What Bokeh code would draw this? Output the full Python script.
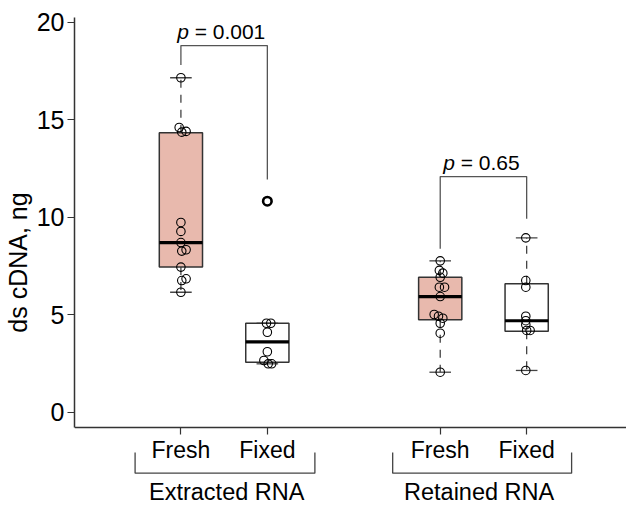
from bokeh.plotting import figure
from bokeh.models import Range1d, FixedTicker, LinearAxis, ColumnDataSource
from bokeh.core.properties import value
from bokeh.embed import file_html
from bokeh.resources import INLINE

# ---------------- data ----------------
groups = ["Extracted RNA", "Retained RNA"]
group_label_x = [1.53, 4.45]
group_span_start = [0.47, 3.45]
group_span_end = [2.55, 5.52]
group_bracket_top = -2.07
group_bracket_bottom = -3.13
group_label_y = -4.62

conditions = ["Fresh", "Fixed", "Fresh", "Fixed"]
positions = [1, 2, 4, 5]
box_q1 = [7.44, 2.56, 4.74, 4.15]
box_median = [8.70, 3.61, 5.93, 4.69]
box_q3 = [14.33, 4.56, 6.92, 6.58]
whisker_low = [6.15, 2.48, 2.05, 2.14]
whisker_high = [17.15, 4.56, 7.76, 8.94]

outlier_x = [2]
outlier_y = [10.82]

ext_fresh_x = [1.00, 0.98, 1.06, 1.01, 1.00, 1.00, 1.00, 1.06, 1.01, 1.00, 1.06, 1.01, 1.00]
ext_fresh_y = [17.15, 14.60, 14.40, 14.36, 9.73, 9.27, 8.70, 8.33, 8.26, 7.44, 6.84, 6.75, 6.15]
ext_fixed_x = [2.00, 1.99, 2.04, 2.00, 2.00, 1.96, 2.01, 2.05]
ext_fixed_y = [10.82, 4.56, 4.56, 4.10, 3.10, 2.65, 2.48, 2.48]
ret_fresh_x = [4.00, 3.99, 4.03, 4.00, 3.99, 4.05, 4.00, 3.93, 3.98, 4.03, 4.00, 4.00, 4.00]
ret_fresh_y = [7.76, 7.27, 7.13, 6.92, 6.41, 6.41, 5.93, 5.01, 4.92, 4.82, 4.56, 4.05, 2.05]
ret_fixed_x = [4.99, 4.99, 4.99, 4.99, 4.99, 4.99, 5.00, 5.04, 4.99]
ret_fixed_y = [8.94, 6.75, 6.41, 4.92, 4.69, 4.48, 4.19, 4.19, 2.14]

p_values = ["0.001", "0.65"]
bracket_x_left = [1, 4]
bracket_x_right = [2, 5]
bracket_y = [18.80, 12.08]
bracket_left_end = [17.80, 8.38]
bracket_right_end = [11.93, 9.92]

y_ticks = [0, 5, 10, 15, 20]
y_axis_min = -0.785
y_axis_max = 20.24
y_view_min = -4.888

# ---------------- styling ----------------
FONT = "Liberation Sans"
FRESH_COLOR = "#E8B9AD"
LINE_COLOR = "#333333"

p = figure(width=626, height=507, output_backend="svg", toolbar_location=None,
           x_range=Range1d(-0.231, 6.155), y_range=Range1d(y_view_min, y_axis_max),
           x_axis_location=None,
           min_border_left=71, min_border_right=0, min_border_top=17, min_border_bottom=0)
p.outline_line_color = None
p.xgrid.visible = False
p.ygrid.visible = False
p.background_fill_color = "white"
p.border_fill_color = "white"

# y axis (line limited to the data area)
ya = p.yaxis[0]
ya.bounds = (y_axis_min, y_axis_max)
ya.ticker = FixedTicker(ticks=y_ticks)
ya.minor_tick_line_color = None
ya.major_tick_out = 7
ya.major_tick_in = 0
ya.major_label_standoff = 3
ya.major_label_text_font = FONT
ya.major_label_text_font_size = "25px"
ya.major_label_text_color = "black"
ya.axis_line_color = LINE_COLOR
ya.axis_line_width = 1.5
ya.major_tick_line_color = LINE_COLOR
ya.major_tick_line_width = 1.2
ya.axis_label = "ds cDNA, ng"
ya.axis_label_text_font = FONT
ya.axis_label_text_font_size = "25px"
ya.axis_label_text_font_style = "normal"
ya.axis_label_text_color = "black"
ya.axis_label_standoff = 2

# x axis placed at the bottom of the data area
xa = LinearAxis(fixed_location=y_axis_min)
xa.ticker = FixedTicker(ticks=positions)
xa.major_label_overrides = {pos: c for pos, c in zip(positions, conditions)}
xa.minor_tick_line_color = None
xa.major_tick_out = 7
xa.major_tick_in = 0
xa.major_label_standoff = 3
xa.major_label_text_font = FONT
xa.major_label_text_font_size = "23px"
xa.major_label_text_color = "black"
xa.axis_line_color = LINE_COLOR
xa.axis_line_width = 1.5
xa.major_tick_line_color = LINE_COLOR
xa.major_tick_line_width = 1.2
p.add_layout(xa, "below")

# boxes
fills = [FRESH_COLOR if c == "Fresh" else "white" for c in conditions]
box_src = ColumnDataSource(dict(x=positions, q1=box_q1, q3=box_q3, med=box_median,
                                lo=whisker_low, hi=whisker_high, fill=fills,
                                xl=[x - 0.25 for x in positions], xr=[x + 0.25 for x in positions],
                                cl=[x - 0.125 for x in positions], cr=[x + 0.125 for x in positions]))

# whiskers (dashed) and caps
p.segment(x0="x", y0="q3", x1="x", y1="hi", source=box_src, line_color="#444444",
          line_width=1.3, line_dash="8 7")
p.segment(x0="x", y0="q1", x1="x", y1="lo", source=box_src, line_color="#444444",
          line_width=1.3, line_dash="8 7")
p.segment(x0="cl", y0="hi", x1="cr", y1="hi", source=box_src, line_color="#444444", line_width=1.3)
p.segment(x0="cl", y0="lo", x1="cr", y1="lo", source=box_src, line_color="#444444", line_width=1.3)

p.vbar(x="x", width=0.5, bottom="q1", top="q3", source=box_src, fill_color="fill",
       line_color=LINE_COLOR, line_width=1.5)
p.segment(x0="xl", y0="med", x1="xr", y1="med", source=box_src, line_color="black", line_width=3.2)

# outlier of the boxplot
p.scatter(outlier_x, outlier_y, marker="circle", size=8.5, fill_color=None,
          line_color="black", line_width=2.6)

# individual points
for xs, ys in [(ext_fresh_x, ext_fresh_y), (ext_fixed_x, ext_fixed_y),
               (ret_fresh_x, ret_fresh_y), (ret_fixed_x, ret_fixed_y)]:
    p.scatter(xs, ys, marker="circle", size=8.5, fill_color=None,
              line_color="black", line_width=1.1)

# significance brackets
bx, by = [], []
for xl, xr, yt, le, re in zip(bracket_x_left, bracket_x_right, bracket_y,
                              bracket_left_end, bracket_right_end):
    bx.append([xl, xl, xr, xr])
    by.append([le, yt, yt, re])
p.multi_line(bx, by, line_color="#555555", line_width=1.3)

mid = [(a + b) / 2 for a, b in zip(bracket_x_left, bracket_x_right)]
txt_w = {"0.001": 94.0, "0.65": 80.5}
for m, yb, pv in zip(mid, bracket_y, p_values):
    start = -txt_w[pv] / 2
    p.text(x=[m], y=[yb], text=["p"], text_font=value(FONT), text_font_style="italic",
           text_font_size="21px", text_align="left", text_baseline="alphabetic",
           x_offset=start, y_offset=-14, text_color="black")
    p.text(x=[m], y=[yb], text=["= " + pv], text_font=value(FONT),
           text_font_size="21px", text_align="left", text_baseline="alphabetic",
           x_offset=start + 11.7 + 5.8, y_offset=-14, text_color="black")

# group brackets and group labels below the axis
gx, gy = [], []
for s, e in zip(group_span_start, group_span_end):
    gx.append([s, s, e, e])
    gy.append([group_bracket_top, group_bracket_bottom, group_bracket_bottom, group_bracket_top])
p.multi_line(gx, gy, line_color="#444444", line_width=1.3)

p.text(x=group_label_x, y=[group_label_y] * len(groups), text=groups,
       text_font=value(FONT), text_font_size="23.5px", text_align="center",
       text_baseline="alphabetic", y_offset=-10, text_color="black")

open("out.html", "w").write(file_html(p, INLINE))
